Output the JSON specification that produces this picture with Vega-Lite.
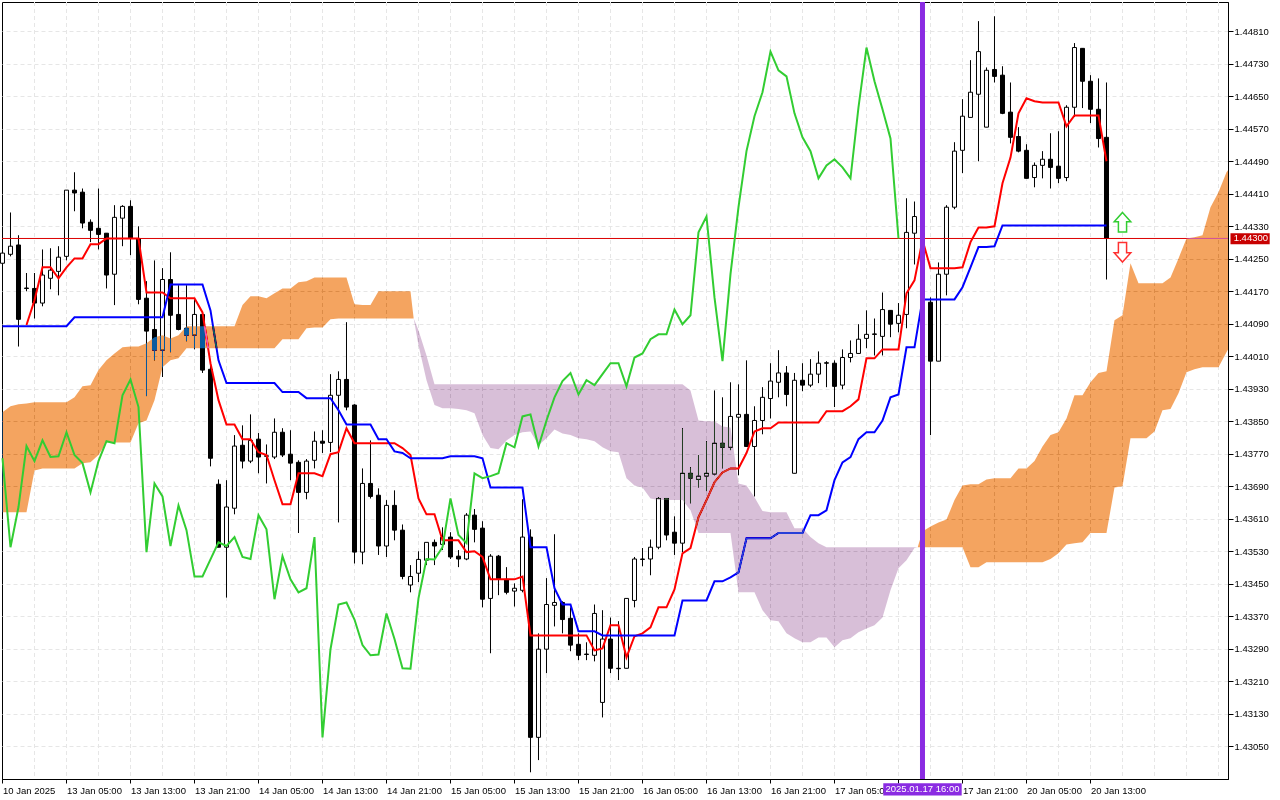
{
  "$schema": "https://vega.github.io/schema/vega-lite/v6.json",
  "width": 1226,
  "height": 777,
  "autosize": {"type": "none"},
  "padding": {"left": 2, "top": 2, "right": 52, "bottom": 21},
  "background": "#ffffff",
  "config": {
    "view": {"stroke": "#000000", "fill": "#ffffff"},
    "axis": {"labelFont": "Liberation Sans", "labelFontSize": 9.5, "labelColor": "#000000", "domainColor": "#000000", "tickColor": "#000000", "title": null}
  },
  "datasets": {
    "bars": [
      {"i":0,"open":1.44239,"high":1.44271,"low":1.44234,"close":1.44264,"kijun":1.44084,"chikou":1.43759},
      {"i":1,"open":1.44261,"high":1.44364,"low":1.44256,"close":1.44281,"kijun":1.44084,"chikou":1.43540},
      {"i":2,"open":1.44284,"high":1.44308,"low":1.44034,"close":1.44101,"kijun":1.44084,"chikou":1.43639},
      {"i":3,"open":1.44178,"high":1.44215,"low":1.44170,"close":1.44177,"tenkan":1.44087,"kijun":1.44084,"chikou":1.43789},
      {"i":4,"open":1.44177,"high":1.44215,"low":1.44103,"close":1.44141,"tenkan":1.44148,"kijun":1.44084,"chikou":1.43752},
      {"i":5,"open":1.44141,"high":1.44273,"low":1.44133,"close":1.44210,"tenkan":1.44229,"kijun":1.44084,"chikou":1.43803},
      {"i":6,"open":1.44202,"high":1.44276,"low":1.44175,"close":1.44222,"tenkan":1.44229,"kijun":1.44084,"chikou":1.43762},
      {"i":7,"open":1.44219,"high":1.44281,"low":1.44160,"close":1.44254,"tenkan":1.44202,"kijun":1.44084,"chikou":1.43764},
      {"i":8,"open":1.44256,"high":1.44419,"low":1.44246,"close":1.44419,"tenkan":1.44229,"kijun":1.44084,"chikou":1.43823},
      {"i":9,"open":1.44419,"high":1.44463,"low":1.44367,"close":1.44412,"tenkan":1.44251,"kijun":1.44106,"chikou":1.43767},
      {"i":10,"open":1.44414,"high":1.44423,"low":1.44325,"close":1.44338,"tenkan":1.44251,"kijun":1.44106,"chikou":1.43747},
      {"i":11,"open":1.44340,"high":1.44347,"low":1.44291,"close":1.44320,"tenkan":1.44286,"kijun":1.44106,"chikou":1.43675},
      {"i":12,"open":1.44325,"high":1.44423,"low":1.44273,"close":1.44310,"tenkan":1.44286,"kijun":1.44106,"chikou":1.43752},
      {"i":13,"open":1.44313,"high":1.44313,"low":1.44177,"close":1.44210,"tenkan":1.44300,"kijun":1.44106,"chikou":1.43801},
      {"i":14,"open":1.44212,"high":1.44382,"low":1.44136,"close":1.44352,"tenkan":1.44300,"kijun":1.44106,"chikou":1.43796},
      {"i":15,"open":1.44350,"high":1.44382,"low":1.44281,"close":1.44379,"tenkan":1.44300,"kijun":1.44106,"chikou":1.43914},
      {"i":16,"open":1.44379,"high":1.44394,"low":1.44259,"close":1.44300,"tenkan":1.44300,"kijun":1.44106,"chikou":1.43953},
      {"i":17,"open":1.44300,"high":1.44330,"low":1.44138,"close":1.44150,"tenkan":1.44300,"kijun":1.44106,"chikou":1.43885},
      {"i":18,"open":1.44153,"high":1.44195,"low":1.43912,"close":1.44072,"tenkan":1.44167,"kijun":1.44106,"chikou":1.43528},
      {"i":19,"open":1.44076,"high":1.44246,"low":1.44000,"close":1.44025,"tenkan":1.44167,"kijun":1.44106,"chikou":1.43697},
      {"i":20,"open":1.44025,"high":1.44227,"low":1.43959,"close":1.44199,"tenkan":1.44167,"kijun":1.44106,"chikou":1.43665},
      {"i":21,"open":1.44199,"high":1.44266,"low":1.44020,"close":1.44111,"tenkan":1.44153,"kijun":1.44187,"chikou":1.43543},
      {"i":22,"open":1.44113,"high":1.44185,"low":1.44074,"close":1.44076,"tenkan":1.44153,"kijun":1.44187,"chikou":1.43643},
      {"i":23,"open":1.44079,"high":1.44185,"low":1.44047,"close":1.44062,"tenkan":1.44153,"kijun":1.44187,"chikou":1.43582},
      {"i":24,"open":1.44062,"high":1.44150,"low":1.44027,"close":1.44113,"tenkan":1.44153,"kijun":1.44187,"chikou":1.43468},
      {"i":25,"open":1.44113,"high":1.44113,"low":1.43969,"close":1.43976,"tenkan":1.44118,"kijun":1.44187,"chikou":1.43468},
      {"i":26,"open":1.43978,"high":1.43993,"low":1.43739,"close":1.43759,"tenkan":1.43993,"kijun":1.44123,"chikou":1.43510},
      {"i":27,"open":1.43695,"high":1.43707,"low":1.43540,"close":1.43540,"tenkan":1.43902,"kijun":1.44000,"chikou":1.43552},
      {"i":28,"open":1.43540,"high":1.43705,"low":1.43416,"close":1.43639,"tenkan":1.43842,"kijun":1.43944,"chikou":1.43543},
      {"i":29,"open":1.43636,"high":1.43816,"low":1.43621,"close":1.43789,"tenkan":1.43842,"kijun":1.43944,"chikou":1.43565},
      {"i":30,"open":1.43791,"high":1.43840,"low":1.43734,"close":1.43752,"tenkan":1.43806,"kijun":1.43944,"chikou":1.43516},
      {"i":31,"open":1.43752,"high":1.43867,"low":1.43747,"close":1.43803,"tenkan":1.43806,"kijun":1.43944,"chikou":1.43511},
      {"i":32,"open":1.43806,"high":1.43821,"low":1.43722,"close":1.43762,"tenkan":1.43774,"kijun":1.43944,"chikou":1.43619},
      {"i":33,"open":1.43765,"high":1.43793,"low":1.43697,"close":1.43764,"tenkan":1.43767,"kijun":1.43944,"chikou":1.43584},
      {"i":34,"open":1.43762,"high":1.43857,"low":1.43757,"close":1.43823,"tenkan":1.43705,"kijun":1.43944,"chikou":1.43412},
      {"i":35,"open":1.43823,"high":1.43833,"low":1.43762,"close":1.43767,"tenkan":1.43646,"kijun":1.43922,"chikou":1.43518},
      {"i":36,"open":1.43769,"high":1.43828,"low":1.43705,"close":1.43747,"tenkan":1.43646,"kijun":1.43922,"chikou":1.43461},
      {"i":37,"open":1.43749,"high":1.43754,"low":1.43575,"close":1.43675,"tenkan":1.43722,"kijun":1.43922,"chikou":1.43429},
      {"i":38,"open":1.43675,"high":1.43757,"low":1.43658,"close":1.43752,"tenkan":1.43722,"kijun":1.43907,"chikou":1.43439},
      {"i":39,"open":1.43754,"high":1.43825,"low":1.43734,"close":1.43801,"tenkan":1.43722,"kijun":1.43907,"chikou":1.43565},
      {"i":40,"open":1.43801,"high":1.43828,"low":1.43772,"close":1.43796,"tenkan":1.43715,"kijun":1.43907,"chikou":1.43072},
      {"i":41,"open":1.43798,"high":1.43966,"low":1.43774,"close":1.43914,"tenkan":1.43769,"kijun":1.43907,"chikou":1.43289},
      {"i":42,"open":1.43914,"high":1.43973,"low":1.43601,"close":1.43953,"tenkan":1.43774,"kijun":1.43877,"chikou":1.43399},
      {"i":43,"open":1.43953,"high":1.44094,"low":1.43877,"close":1.43885,"tenkan":1.43833,"kijun":1.43842,"chikou":1.43404},
      {"i":44,"open":1.43890,"high":1.43892,"low":1.43500,"close":1.43528,"tenkan":1.43796,"kijun":1.43842,"chikou":1.43362},
      {"i":45,"open":1.43528,"high":1.43734,"low":1.43498,"close":1.43697,"tenkan":1.43796,"kijun":1.43842,"chikou":1.43299},
      {"i":46,"open":1.43697,"high":1.43803,"low":1.43660,"close":1.43665,"tenkan":1.43796,"kijun":1.43842,"chikou":1.43274},
      {"i":47,"open":1.43668,"high":1.43685,"low":1.43521,"close":1.43543,"tenkan":1.43796,"kijun":1.43806,"chikou":1.43276},
      {"i":48,"open":1.43543,"high":1.43656,"low":1.43516,"close":1.43643,"tenkan":1.43796,"kijun":1.43806,"chikou":1.43377},
      {"i":49,"open":1.43643,"high":1.43680,"low":1.43557,"close":1.43582,"tenkan":1.43796,"kijun":1.43776,"chikou":1.43314},
      {"i":50,"open":1.43582,"high":1.43596,"low":1.43461,"close":1.43468,"tenkan":1.43784,"kijun":1.43772,"chikou":1.43242},
      {"i":51,"open":1.43447,"high":1.43496,"low":1.43429,"close":1.43468,"tenkan":1.43767,"kijun":1.43759,"chikou":1.43241},
      {"i":52,"open":1.43476,"high":1.43530,"low":1.43454,"close":1.43510,"tenkan":1.43660,"kijun":1.43759,"chikou":1.43414},
      {"i":53,"open":1.43508,"high":1.43537,"low":1.43496,"close":1.43552,"tenkan":1.43621,"kijun":1.43759,"chikou":1.43511},
      {"i":54,"open":1.43552,"high":1.43559,"low":1.43496,"close":1.43543,"tenkan":1.43621,"kijun":1.43759,"chikou":1.43510},
      {"i":55,"open":1.43547,"high":1.43589,"low":1.43533,"close":1.43565,"tenkan":1.43557,"kijun":1.43759,"chikou":1.43540},
      {"i":56,"open":1.43565,"high":1.43577,"low":1.43511,"close":1.43516,"tenkan":1.43557,"kijun":1.43764,"chikou":1.43660},
      {"i":57,"open":1.43518,"high":1.43533,"low":1.43491,"close":1.43511,"tenkan":1.43557,"kijun":1.43764,"chikou":1.43570},
      {"i":58,"open":1.43511,"high":1.43624,"low":1.43508,"close":1.43619,"tenkan":1.43528,"kijun":1.43764,"chikou":1.43550},
      {"i":59,"open":1.43619,"high":1.43634,"low":1.43552,"close":1.43584,"tenkan":1.43530,"kijun":1.43764,"chikou":1.43722},
      {"i":60,"open":1.43587,"high":1.43604,"low":1.43392,"close":1.43412,"tenkan":1.43516,"kijun":1.43759,"chikou":1.43710},
      {"i":61,"open":1.43414,"high":1.43523,"low":1.43279,"close":1.43518,"tenkan":1.43461,"kijun":1.43687,"chikou":1.43715},
      {"i":62,"open":1.43518,"high":1.43521,"low":1.43422,"close":1.43461,"tenkan":1.43461,"kijun":1.43687,"chikou":1.43722},
      {"i":63,"open":1.43461,"high":1.43491,"low":1.43424,"close":1.43429,"tenkan":1.43461,"kijun":1.43687,"chikou":1.43796},
      {"i":64,"open":1.43432,"high":1.43451,"low":1.43394,"close":1.43439,"tenkan":1.43461,"kijun":1.43687,"chikou":1.43786},
      {"i":65,"open":1.43434,"high":1.43658,"low":1.43429,"close":1.43565,"tenkan":1.43468,"kijun":1.43687,"chikou":1.43862},
      {"i":66,"open":1.43565,"high":1.43584,"low":1.42986,"close":1.43072,"tenkan":1.43323,"kijun":1.43540,"chikou":1.43867},
      {"i":67,"open":1.43072,"high":1.43328,"low":1.43016,"close":1.43289,"tenkan":1.43323,"kijun":1.43540,"chikou":1.43788},
      {"i":68,"open":1.43289,"high":1.43464,"low":1.43230,"close":1.43399,"tenkan":1.43323,"kijun":1.43540,"chikou":1.43852},
      {"i":69,"open":1.43397,"high":1.43572,"low":1.43345,"close":1.43404,"tenkan":1.43323,"kijun":1.43439,"chikou":1.43909},
      {"i":70,"open":1.43404,"high":1.43407,"low":1.43328,"close":1.43362,"tenkan":1.43323,"kijun":1.43399,"chikou":1.43949},
      {"i":71,"open":1.43365,"high":1.43392,"low":1.43284,"close":1.43299,"tenkan":1.43323,"kijun":1.43399,"chikou":1.43969},
      {"i":72,"open":1.43301,"high":1.43328,"low":1.43262,"close":1.43274,"tenkan":1.43323,"kijun":1.43333,"chikou":1.43916},
      {"i":73,"open":1.43277,"high":1.43306,"low":1.43262,"close":1.43276,"tenkan":1.43323,"kijun":1.43333,"chikou":1.43951},
      {"i":74,"open":1.43274,"high":1.43399,"low":1.43259,"close":1.43377,"tenkan":1.43286,"kijun":1.43333,"chikou":1.43939},
      {"i":75,"open":1.43158,"high":1.43385,"low":1.43121,"close":1.43314,"tenkan":1.43291,"kijun":1.43323,"chikou":1.43966},
      {"i":76,"open":1.43314,"high":1.43367,"low":1.43230,"close":1.43242,"tenkan":1.43348,"kijun":1.43323,"chikou":1.43993},
      {"i":77,"open":1.43242,"high":1.43358,"low":1.43213,"close":1.43241,"tenkan":1.43348,"kijun":1.43323,"chikou":1.43993},
      {"i":78,"open":1.43242,"high":1.43414,"low":1.43242,"close":1.43414,"tenkan":1.43269,"kijun":1.43323,"chikou":1.43936},
      {"i":79,"open":1.43409,"high":1.43516,"low":1.43392,"close":1.43511,"tenkan":1.43321,"kijun":1.43323,"chikou":1.44007},
      {"i":80,"open":1.43511,"high":1.43538,"low":1.43493,"close":1.43510,"tenkan":1.43328,"kijun":1.43323,"chikou":1.44017},
      {"i":81,"open":1.43511,"high":1.43559,"low":1.43471,"close":1.43540,"tenkan":1.43343,"kijun":1.43323,"chikou":1.44052},
      {"i":82,"open":1.43540,"high":1.43663,"low":1.43535,"close":1.43660,"tenkan":1.43392,"kijun":1.43323,"chikou":1.44064},
      {"i":83,"open":1.43660,"high":1.43660,"low":1.43557,"close":1.43570,"tenkan":1.43392,"kijun":1.43323,"chikou":1.44064},
      {"i":84,"open":1.43577,"high":1.43616,"low":1.43521,"close":1.43550,"tenkan":1.43436,"kijun":1.43323,"chikou":1.44125},
      {"i":85,"open":1.43550,"high":1.43833,"low":1.43528,"close":1.43722,"tenkan":1.43525,"kijun":1.43409,"chikou":1.44089},
      {"i":86,"open":1.43722,"high":1.43737,"low":1.43648,"close":1.43710,"tenkan":1.43538,"kijun":1.43409,"chikou":1.44111},
      {"i":87,"open":1.43707,"high":1.43767,"low":1.43687,"close":1.43715,"tenkan":1.43614,"kijun":1.43409,"chikou":1.44315},
      {"i":88,"open":1.43715,"high":1.43801,"low":1.43678,"close":1.43722,"tenkan":1.43656,"kijun":1.43409,"chikou":1.44354},
      {"i":89,"open":1.43720,"high":1.43926,"low":1.43717,"close":1.43796,"tenkan":1.43700,"kijun":1.43456,"chikou":1.44155},
      {"i":90,"open":1.43796,"high":1.43909,"low":1.43734,"close":1.43786,"tenkan":1.43724,"kijun":1.43456,"chikou":1.43998},
      {"i":91,"open":1.43786,"high":1.43946,"low":1.43779,"close":1.43862,"tenkan":1.43734,"kijun":1.43466,"chikou":1.44212},
      {"i":92,"open":1.43860,"high":1.43941,"low":1.43717,"close":1.43867,"tenkan":1.43734,"kijun":1.43478,"chikou":1.44377},
      {"i":93,"open":1.43867,"high":1.44000,"low":1.43788,"close":1.43788,"tenkan":1.43772,"kijun":1.43562,"chikou":1.44515},
      {"i":94,"open":1.43788,"high":1.43887,"low":1.43665,"close":1.43852,"tenkan":1.43825,"kijun":1.43562,"chikou":1.44601},
      {"i":95,"open":1.43852,"high":1.43934,"low":1.43818,"close":1.43909,"tenkan":1.43833,"kijun":1.43562,"chikou":1.44660},
      {"i":96,"open":1.43906,"high":1.43993,"low":1.43857,"close":1.43949,"tenkan":1.43833,"kijun":1.43562,"chikou":1.44760},
      {"i":97,"open":1.43946,"high":1.44025,"low":1.43909,"close":1.43969,"tenkan":1.43847,"kijun":1.43575,"chikou":1.44714},
      {"i":98,"open":1.43969,"high":1.43986,"low":1.43887,"close":1.43916,"tenkan":1.43847,"kijun":1.43575,"chikou":1.44699},
      {"i":99,"open":1.43722,"high":1.43969,"low":1.43722,"close":1.43951,"tenkan":1.43847,"kijun":1.43575,"chikou":1.44608},
      {"i":100,"open":1.43951,"high":1.43993,"low":1.43924,"close":1.43939,"tenkan":1.43847,"kijun":1.43575,"chikou":1.44549},
      {"i":101,"open":1.43939,"high":1.44003,"low":1.43934,"close":1.43966,"tenkan":1.43847,"kijun":1.43619,"chikou":1.44515},
      {"i":102,"open":1.43966,"high":1.44022,"low":1.43944,"close":1.43993,"tenkan":1.43847,"kijun":1.43619,"chikou":1.44448},
      {"i":103,"open":1.43994,"high":1.43998,"low":1.43934,"close":1.43993,"tenkan":1.43875,"kijun":1.43631,"chikou":1.44480},
      {"i":104,"open":1.43993,"high":1.44000,"low":1.43885,"close":1.43936,"tenkan":1.43875,"kijun":1.43705,"chikou":1.44495},
      {"i":105,"open":1.43939,"high":1.44027,"low":1.43929,"close":1.44007,"tenkan":1.43875,"kijun":1.43749,"chikou":1.44475},
      {"i":106,"open":1.44007,"high":1.44049,"low":1.43995,"close":1.44017,"tenkan":1.43887,"kijun":1.43762,"chikou":1.44448},
      {"i":107,"open":1.44017,"high":1.44089,"low":1.44017,"close":1.44052,"tenkan":1.43904,"kijun":1.43806,"chikou":1.44623},
      {"i":108,"open":1.44054,"high":1.44123,"low":1.44030,"close":1.44064,"tenkan":1.44005,"kijun":1.43823,"chikou":1.44770},
      {"i":109,"open":1.44065,"high":1.44103,"low":1.44012,"close":1.44064,"tenkan":1.44005,"kijun":1.43823,"chikou":1.44687},
      {"i":110,"open":1.44059,"high":1.44167,"low":1.44012,"close":1.44125,"tenkan":1.44027,"kijun":1.43852,"chikou":1.44618},
      {"i":111,"open":1.44123,"high":1.44123,"low":1.44057,"close":1.44089,"tenkan":1.44027,"kijun":1.43909,"chikou":1.44546},
      {"i":112,"open":1.44091,"high":1.44141,"low":1.44069,"close":1.44111,"tenkan":1.44027,"kijun":1.43916,"chikou":1.44300},
      {"i":113,"open":1.44113,"high":1.44399,"low":1.44079,"close":1.44315,"tenkan":1.44165,"kijun":1.44032},
      {"i":114,"open":1.44313,"high":1.44391,"low":1.44236,"close":1.44354,"tenkan":1.44197,"kijun":1.44032},
      {"i":115,"open":1.44313,"high":1.44325,"low":1.44123,"close":1.44155,"tenkan":1.44296,"kijun":1.44150},
      {"i":116,"open":1.44143,"high":1.44155,"low":1.43816,"close":1.43998,"tenkan":1.44227,"kijun":1.44150},
      {"i":117,"open":1.43998,"high":1.44241,"low":1.43998,"close":1.44212,"tenkan":1.44227,"kijun":1.44150},
      {"i":118,"open":1.44212,"high":1.44382,"low":1.44160,"close":1.44377,"tenkan":1.44227,"kijun":1.44150},
      {"i":119,"open":1.44377,"high":1.44537,"low":1.44372,"close":1.44515,"tenkan":1.44227,"kijun":1.44150},
      {"i":120,"open":1.44517,"high":1.44643,"low":1.44461,"close":1.44601,"tenkan":1.44229,"kijun":1.44180},
      {"i":121,"open":1.44598,"high":1.44739,"low":1.44598,"close":1.44660,"tenkan":1.44291,"kijun":1.44229},
      {"i":122,"open":1.44655,"high":1.44835,"low":1.44490,"close":1.44760,"tenkan":1.44327,"kijun":1.44279},
      {"i":123,"open":1.44574,"high":1.44721,"low":1.44574,"close":1.44714,"tenkan":1.44327,"kijun":1.44279},
      {"i":124,"open":1.44716,"high":1.44847,"low":1.44684,"close":1.44699,"tenkan":1.44330,"kijun":1.44281},
      {"i":125,"open":1.44702,"high":1.44724,"low":1.44606,"close":1.44608,"tenkan":1.44436,"kijun":1.44332},
      {"i":126,"open":1.44611,"high":1.44684,"low":1.44534,"close":1.44549,"tenkan":1.44499,"kijun":1.44332},
      {"i":127,"open":1.44551,"high":1.44574,"low":1.44512,"close":1.44515,"tenkan":1.44608,"kijun":1.44332},
      {"i":128,"open":1.44517,"high":1.44532,"low":1.44448,"close":1.44448,"tenkan":1.44645,"kijun":1.44332},
      {"i":129,"open":1.44450,"high":1.44487,"low":1.44426,"close":1.44480,"tenkan":1.44638,"kijun":1.44332},
      {"i":130,"open":1.44480,"high":1.44515,"low":1.44448,"close":1.44495,"tenkan":1.44635,"kijun":1.44332},
      {"i":131,"open":1.44495,"high":1.44559,"low":1.44423,"close":1.44475,"tenkan":1.44635,"kijun":1.44332},
      {"i":132,"open":1.44478,"high":1.44564,"low":1.44436,"close":1.44448,"tenkan":1.44635,"kijun":1.44332},
      {"i":133,"open":1.44450,"high":1.44628,"low":1.44441,"close":1.44623,"tenkan":1.44576,"kijun":1.44332},
      {"i":134,"open":1.44623,"high":1.44781,"low":1.44599,"close":1.44770,"tenkan":1.44603,"kijun":1.44332},
      {"i":135,"open":1.44768,"high":1.44768,"low":1.44621,"close":1.44687,"tenkan":1.44603,"kijun":1.44332},
      {"i":136,"open":1.44687,"high":1.44702,"low":1.44584,"close":1.44618,"tenkan":1.44603,"kijun":1.44332},
      {"i":137,"open":1.44618,"high":1.44694,"low":1.44524,"close":1.44546,"tenkan":1.44603,"kijun":1.44332},
      {"i":138,"open":1.44549,"high":1.44684,"low":1.44199,"close":1.44300,"tenkan":1.44490,"kijun":1.44332}
    ],
    "cloud": [
      {"i":0,"segment":"a","top":1.43872,"bottom":1.43626},
      {"i":1,"segment":"a","top":1.43887,"bottom":1.43626},
      {"i":2,"segment":"a","top":1.43892,"bottom":1.43626},
      {"i":3,"segment":"a","top":1.43894,"bottom":1.43626},
      {"i":4,"segment":"a","top":1.43897,"bottom":1.43729},
      {"i":5,"segment":"a","top":1.43897,"bottom":1.43734},
      {"i":8,"segment":"a","top":1.43897,"bottom":1.43734},
      {"i":9,"segment":"a","top":1.43909,"bottom":1.43734},
      {"i":10,"segment":"a","top":1.43936,"bottom":1.43747},
      {"i":11,"segment":"a","top":1.43939,"bottom":1.43749},
      {"i":12,"segment":"a","top":1.43976,"bottom":1.43767},
      {"i":13,"segment":"a","top":1.44000,"bottom":1.43798},
      {"i":14,"segment":"a","top":1.44017,"bottom":1.43798},
      {"i":15,"segment":"a","top":1.44032,"bottom":1.43798},
      {"i":16,"segment":"a","top":1.44034,"bottom":1.43798},
      {"i":17,"segment":"a","top":1.44034,"bottom":1.43845},
      {"i":18,"segment":"a","top":1.44042,"bottom":1.43852},
      {"i":19,"segment":"a","top":1.44057,"bottom":1.43902},
      {"i":20,"segment":"a","top":1.44062,"bottom":1.43983},
      {"i":21,"segment":"a","top":1.44054,"bottom":1.44000},
      {"i":22,"segment":"a","top":1.44062,"bottom":1.44005},
      {"i":23,"segment":"a","top":1.44084,"bottom":1.44030},
      {"i":29,"segment":"a","top":1.44084,"bottom":1.44030},
      {"i":30,"segment":"a","top":1.44136,"bottom":1.44030},
      {"i":31,"segment":"a","top":1.44158,"bottom":1.44030},
      {"i":32,"segment":"a","top":1.44158,"bottom":1.44030},
      {"i":33,"segment":"a","top":1.44153,"bottom":1.44030},
      {"i":34,"segment":"a","top":1.44165,"bottom":1.44030},
      {"i":35,"segment":"a","top":1.44177,"bottom":1.44052},
      {"i":36,"segment":"a","top":1.44177,"bottom":1.44052},
      {"i":37,"segment":"a","top":1.44192,"bottom":1.44052},
      {"i":38,"segment":"a","top":1.44195,"bottom":1.44079},
      {"i":39,"segment":"a","top":1.44204,"bottom":1.44081},
      {"i":40,"segment":"a","top":1.44204,"bottom":1.44081},
      {"i":41,"segment":"a","top":1.44204,"bottom":1.44101},
      {"i":42,"segment":"a","top":1.44204,"bottom":1.44103},
      {"i":43,"segment":"a","top":1.44204,"bottom":1.44103},
      {"i":44,"segment":"a","top":1.44138,"bottom":1.44103},
      {"i":45,"segment":"a","top":1.44136,"bottom":1.44103},
      {"i":46,"segment":"a","top":1.44136,"bottom":1.44103},
      {"i":47,"segment":"a","top":1.44170,"bottom":1.44103},
      {"i":51,"segment":"a","top":1.44170,"bottom":1.44103},
      {"i":51.4,"segment":"a","top":1.44103,"bottom":1.44103},
      {"i":51.4,"segment":"b","top":1.44103,"bottom":1.44103},
      {"i":52,"segment":"b","top":1.44074,"bottom":1.44037},
      {"i":53,"segment":"b","top":1.44012,"bottom":1.43951},
      {"i":54,"segment":"b","top":1.43941,"bottom":1.43890},
      {"i":55,"segment":"b","top":1.43941,"bottom":1.43882},
      {"i":56,"segment":"b","top":1.43941,"bottom":1.43882},
      {"i":57,"segment":"b","top":1.43941,"bottom":1.43880},
      {"i":58,"segment":"b","top":1.43941,"bottom":1.43877},
      {"i":59,"segment":"b","top":1.43941,"bottom":1.43870},
      {"i":60,"segment":"b","top":1.43941,"bottom":1.43816},
      {"i":61,"segment":"b","top":1.43941,"bottom":1.43784},
      {"i":62,"segment":"b","top":1.43941,"bottom":1.43781},
      {"i":63,"segment":"b","top":1.43941,"bottom":1.43803},
      {"i":64,"segment":"b","top":1.43941,"bottom":1.43816},
      {"i":65,"segment":"b","top":1.43941,"bottom":1.43823},
      {"i":66,"segment":"b","top":1.43941,"bottom":1.43825},
      {"i":67,"segment":"b","top":1.43941,"bottom":1.43791},
      {"i":68,"segment":"b","top":1.43941,"bottom":1.43808},
      {"i":69,"segment":"b","top":1.43941,"bottom":1.43830},
      {"i":70,"segment":"b","top":1.43941,"bottom":1.43820},
      {"i":71,"segment":"b","top":1.43941,"bottom":1.43816},
      {"i":72,"segment":"b","top":1.43941,"bottom":1.43808},
      {"i":73,"segment":"b","top":1.43941,"bottom":1.43806},
      {"i":74,"segment":"b","top":1.43941,"bottom":1.43801},
      {"i":75,"segment":"b","top":1.43941,"bottom":1.43786},
      {"i":76,"segment":"b","top":1.43941,"bottom":1.43776},
      {"i":77,"segment":"b","top":1.43941,"bottom":1.43774},
      {"i":78,"segment":"b","top":1.43941,"bottom":1.43710},
      {"i":79,"segment":"b","top":1.43941,"bottom":1.43692},
      {"i":80,"segment":"b","top":1.43941,"bottom":1.43687},
      {"i":81,"segment":"b","top":1.43941,"bottom":1.43660},
      {"i":82,"segment":"b","top":1.43941,"bottom":1.43656},
      {"i":85,"segment":"b","top":1.43941,"bottom":1.43656},
      {"i":86,"segment":"b","top":1.43926,"bottom":1.43631},
      {"i":87,"segment":"b","top":1.43852,"bottom":1.43575},
      {"i":88,"segment":"b","top":1.43850,"bottom":1.43575},
      {"i":89,"segment":"b","top":1.43850,"bottom":1.43575},
      {"i":90,"segment":"b","top":1.43837,"bottom":1.43575},
      {"i":91,"segment":"b","top":1.43835,"bottom":1.43575},
      {"i":92,"segment":"b","top":1.43697,"bottom":1.43429},
      {"i":93,"segment":"b","top":1.43692,"bottom":1.43429},
      {"i":94,"segment":"b","top":1.43663,"bottom":1.43429},
      {"i":95,"segment":"b","top":1.43629,"bottom":1.43385},
      {"i":96,"segment":"b","top":1.43626,"bottom":1.43360},
      {"i":97,"segment":"b","top":1.43626,"bottom":1.43358},
      {"i":98,"segment":"b","top":1.43626,"bottom":1.43328},
      {"i":99,"segment":"b","top":1.43587,"bottom":1.43316},
      {"i":100,"segment":"b","top":1.43587,"bottom":1.43306},
      {"i":101,"segment":"b","top":1.43565,"bottom":1.43306},
      {"i":102,"segment":"b","top":1.43550,"bottom":1.43318},
      {"i":103,"segment":"b","top":1.43540,"bottom":1.43318},
      {"i":104,"segment":"b","top":1.43540,"bottom":1.43294},
      {"i":105,"segment":"b","top":1.43540,"bottom":1.43311},
      {"i":106,"segment":"b","top":1.43540,"bottom":1.43316},
      {"i":107,"segment":"b","top":1.43540,"bottom":1.43331},
      {"i":108,"segment":"b","top":1.43540,"bottom":1.43340},
      {"i":109,"segment":"b","top":1.43540,"bottom":1.43348},
      {"i":110,"segment":"b","top":1.43540,"bottom":1.43367},
      {"i":111,"segment":"b","top":1.43540,"bottom":1.43434},
      {"i":112,"segment":"b","top":1.43540,"bottom":1.43488},
      {"i":113,"segment":"b","top":1.43540,"bottom":1.43508},
      {"i":114,"segment":"b","top":1.43540,"bottom":1.43538},
      {"i":114.4,"segment":"b","top":1.43540,"bottom":1.43540},
      {"i":114.4,"segment":"c","top":1.43540,"bottom":1.43540},
      {"i":115,"segment":"c","top":1.43579,"bottom":1.43540},
      {"i":116,"segment":"c","top":1.43591,"bottom":1.43540},
      {"i":117,"segment":"c","top":1.43601,"bottom":1.43540},
      {"i":118,"segment":"c","top":1.43608,"bottom":1.43540},
      {"i":119,"segment":"c","top":1.43656,"bottom":1.43540},
      {"i":120,"segment":"c","top":1.43692,"bottom":1.43540},
      {"i":121,"segment":"c","top":1.43695,"bottom":1.43491},
      {"i":122,"segment":"c","top":1.43695,"bottom":1.43491},
      {"i":123,"segment":"c","top":1.43707,"bottom":1.43503},
      {"i":124,"segment":"c","top":1.43710,"bottom":1.43503},
      {"i":126,"segment":"c","top":1.43710,"bottom":1.43503},
      {"i":127,"segment":"c","top":1.43734,"bottom":1.43503},
      {"i":128,"segment":"c","top":1.43734,"bottom":1.43503},
      {"i":129,"segment":"c","top":1.43752,"bottom":1.43503},
      {"i":130,"segment":"c","top":1.43788,"bottom":1.43503},
      {"i":131,"segment":"c","top":1.43816,"bottom":1.43511},
      {"i":132,"segment":"c","top":1.43823,"bottom":1.43525},
      {"i":133,"segment":"c","top":1.43857,"bottom":1.43547},
      {"i":134,"segment":"c","top":1.43914,"bottom":1.43550},
      {"i":135,"segment":"c","top":1.43914,"bottom":1.43552},
      {"i":136,"segment":"c","top":1.43946,"bottom":1.43575},
      {"i":137,"segment":"c","top":1.43969,"bottom":1.43575},
      {"i":138,"segment":"c","top":1.43973,"bottom":1.43575},
      {"i":139,"segment":"c","top":1.44099,"bottom":1.43687},
      {"i":140,"segment":"c","top":1.44111,"bottom":1.43690},
      {"i":141,"segment":"c","top":1.44239,"bottom":1.43808},
      {"i":142,"segment":"c","top":1.44190,"bottom":1.43808},
      {"i":143,"segment":"c","top":1.44190,"bottom":1.43808},
      {"i":144,"segment":"c","top":1.44190,"bottom":1.43825},
      {"i":145,"segment":"c","top":1.44190,"bottom":1.43877},
      {"i":146,"segment":"c","top":1.44204,"bottom":1.43880},
      {"i":147,"segment":"c","top":1.44251,"bottom":1.43919},
      {"i":148,"segment":"c","top":1.44300,"bottom":1.43971},
      {"i":149,"segment":"c","top":1.44303,"bottom":1.43978},
      {"i":150,"segment":"c","top":1.44308,"bottom":1.43983},
      {"i":151,"segment":"c","top":1.44377,"bottom":1.43983},
      {"i":152,"segment":"c","top":1.44414,"bottom":1.43983},
      {"i":153,"segment":"c","top":1.44463,"bottom":1.44020},
      {"i":153.19,"segment":"c","top":1.44468,"bottom":1.44027}
    ],
    "timeGrid": [
      {"i":4},{"i":8},{"i":12},{"i":16},{"i":20},{"i":24},{"i":28},{"i":32},{"i":36},{"i":40},
      {"i":44},{"i":48},{"i":52},{"i":56},{"i":60},{"i":64},{"i":68},{"i":72},{"i":76},{"i":80},
      {"i":84},{"i":88},{"i":92},{"i":96},{"i":100},{"i":104},{"i":108},{"i":112},{"i":116},{"i":120},
      {"i":124},{"i":128},{"i":132},{"i":136},{"i":140},{"i":144},{"i":148},{"i":152}
    ]
  },
  "encoding": {
    "x": {
      "field": "i",
      "type": "quantitative",
      "scale": {"domain": [-0.06125, 153.18875], "nice": false, "zero": false, "padding": 0},
      "axis": {
        "values": [0, 8, 16, 24, 32, 40, 48, 56, 64, 72, 80, 88, 96, 104, 112, 120, 128, 136],
        "labelExpr": "{'0':'10 Jan 2025','8':'13 Jan 05:00','16':'13 Jan 13:00','24':'13 Jan 21:00','32':'14 Jan 05:00','40':'14 Jan 13:00','48':'14 Jan 21:00','56':'15 Jan 05:00','64':'15 Jan 13:00','72':'15 Jan 21:00','80':'16 Jan 05:00','88':'16 Jan 13:00','96':'16 Jan 21:00','104':'17 Jan 05:00','112':'17 Jan 13:00','120':'17 Jan 21:00','128':'20 Jan 05:00','136':'20 Jan 13:00'}[datum.value]",
        "labelAlign": "left",
        "labelBound": false,
        "labelFlush": false,
        "labelOverlap": false,
        "labelPadding": 2,
        "tickSize": 4,
        "grid": false
      }
    },
    "y": {
      "type": "quantitative",
      "scale": {"domain": [1.429695, 1.448821], "nice": false, "zero": false},
      "axis": {
        "orient": "right",
        "values": [1.4481, 1.4473, 1.4465, 1.4457, 1.4449, 1.4441, 1.4433, 1.4425, 1.4417, 1.4409, 1.4401, 1.4393, 1.4385, 1.4377, 1.4369, 1.4361, 1.4353, 1.4345, 1.4337, 1.4329, 1.4321, 1.4313, 1.4305],
        "format": ".5f",
        "labelOverlap": false,
        "labelPadding": 1,
        "tickSize": 5,
        "grid": true,
        "gridColor": "#e6e6e6",
        "gridDash": [4, 3],
        "gridWidth": 1
      }
    }
  },
  "layer": [
    {
      "data": {"name": "timeGrid"},
      "mark": {"type": "rule", "color": "#e6e6e6", "strokeWidth": 1, "strokeDash": [4, 3]},
      "encoding": {"x": {"field": "i", "type": "quantitative"}}
    },
    {
      "data": {"name": "bars"},
      "mark": {"type": "rule", "color": "#000000", "strokeWidth": 1},
      "encoding": {"y": {"field": "high", "type": "quantitative"}, "y2": {"field": "low"}}
    },
    {
      "data": {"name": "bars"},
      "mark": {"type": "bar", "orient": "vertical", "size": 4, "stroke": "#000000", "strokeWidth": 1},
      "encoding": {
        "y": {"field": "open", "type": "quantitative"},
        "y2": {"field": "close"},
        "fill": {"condition": {"test": "datum.close > datum.open", "value": "#ffffff"}, "value": "#000000"}
      }
    },
    {
      "data": {"values": [{"start": -0.06125, "end": 153.18875, "price": 1.443}]},
      "mark": {"type": "rule", "color": "#dc0000", "strokeWidth": 1},
      "encoding": {"x": {"field": "start", "type": "quantitative"}, "x2": {"field": "end"}, "y": {"field": "price", "type": "quantitative"}}
    },
    {
      "data": {"name": "bars"},
      "mark": {"type": "line", "color": "#ff0000", "strokeWidth": 2},
      "encoding": {"y": {"field": "tenkan", "type": "quantitative"}}
    },
    {
      "data": {"name": "bars"},
      "mark": {"type": "line", "color": "#0000ff", "strokeWidth": 2},
      "encoding": {"y": {"field": "kijun", "type": "quantitative"}}
    },
    {
      "data": {"name": "cloud"},
      "mark": {"type": "area", "blend": "difference"},
      "encoding": {
        "y": {"field": "top", "type": "quantitative"},
        "y2": {"field": "bottom"},
        "color": {"field": "segment", "type": "nominal", "legend": null, "scale": {"domain": ["a", "b", "c"], "range": ["#0b5b9f", "#274027", "#0b5b9f"]}}
      }
    },
    {
      "data": {"name": "bars"},
      "mark": {"type": "line", "color": "#32cd32", "strokeWidth": 2},
      "encoding": {"y": {"field": "chikou", "type": "quantitative"}}
    },
    {
      "data": {"values": [{"i": 140, "price": 1.4434}]},
      "mark": {"type": "point", "shape": "M0,-1L0.85,-0.05L0.42,-0.05L0.42,1L-0.42,1L-0.42,-0.05L-0.85,-0.05Z", "size": 380, "filled": true, "fill": "#ffffff", "stroke": "#32cd32", "strokeWidth": 1.5, "opacity": 1},
      "encoding": {"y": {"field": "price", "type": "quantitative"}}
    },
    {
      "data": {"values": [{"i": 140, "price": 1.44266}]},
      "mark": {"type": "point", "shape": "M0,1L0.85,0.05L0.42,0.05L0.42,-1L-0.42,-1L-0.42,0.05L-0.85,0.05Z", "size": 380, "filled": true, "fill": "#ffffff", "stroke": "#ff3030", "strokeWidth": 1.5, "opacity": 1},
      "encoding": {"y": {"field": "price", "type": "quantitative"}}
    },
    {
      "data": {"values": [{"i": 115}]},
      "mark": {"type": "rule", "color": "#8a2be2", "strokeWidth": 5},
      "encoding": {"x": {"field": "i", "type": "quantitative"}}
    },
    {
      "data": {"values": [{"start": 153.5, "end": 158.4, "upper": 1.44313, "lower": 1.44286}]},
      "mark": {"type": "rect", "color": "#c80000", "clip": false},
      "encoding": {
        "x": {"field": "start", "type": "quantitative"},
        "x2": {"field": "end"},
        "y": {"field": "upper", "type": "quantitative"},
        "y2": {"field": "lower"}
      }
    },
    {
      "data": {"values": [{"i": 153.9, "price": 1.443, "label": "1.44300"}]},
      "mark": {"type": "text", "color": "#ffffff", "align": "left", "baseline": "middle", "font": "Liberation Sans", "fontSize": 9.5, "clip": false},
      "encoding": {"y": {"field": "price", "type": "quantitative"}, "text": {"field": "label"}}
    },
    {
      "data": {"values": [{"start": 110.1, "end": 119.9, "upper": 1.42959, "lower": 1.42929}]},
      "mark": {"type": "rect", "color": "#8a2be2", "clip": false},
      "encoding": {
        "x": {"field": "start", "type": "quantitative"},
        "x2": {"field": "end"},
        "y": {"field": "upper", "type": "quantitative"},
        "y2": {"field": "lower"}
      }
    },
    {
      "data": {"values": [{"i": 115, "price": 1.42944, "label": "2025.01.17 16:00"}]},
      "mark": {"type": "text", "color": "#ffffff", "align": "center", "baseline": "middle", "font": "Liberation Sans", "fontSize": 9.5, "clip": false},
      "encoding": {"y": {"field": "price", "type": "quantitative"}, "text": {"field": "label"}}
    }
  ]
}
